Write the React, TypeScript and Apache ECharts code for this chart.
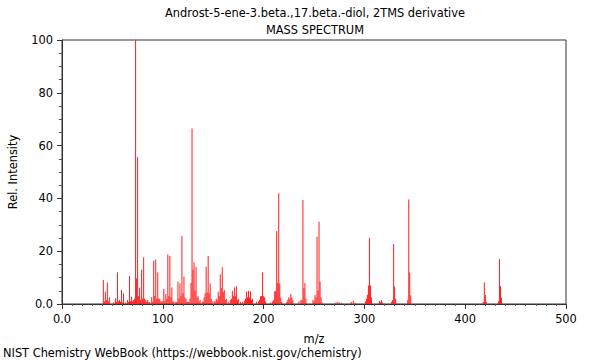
import React, { useEffect, useRef } from "react";
import * as echarts from "echarts";

const titleLine1 = "Androst-5-ene-3.beta.,17.beta.-diol, 2TMS derivative";
const titleLine2 = "MASS SPECTRUM";
const xAxisName = "m/z";
const yAxisName = "Rel. Intensity";
const footer = "NIST Chemistry WebBook (https://webbook.nist.gov/chemistry)";

const mzValues: number[] = [
  41, 42, 43, 44, 45, 46, 47, 51, 53, 54, 55, 56, 57, 58, 59, 60, 61, 63, 65, 66,
  67, 68, 69, 70, 71, 72, 73, 74, 75, 76, 77, 78, 79, 80, 81, 82, 83, 84, 85, 86,
  87, 89, 90, 91, 92, 93, 94, 95, 96, 97, 98, 99, 100, 101, 102, 103, 104, 105, 106, 107,
  108, 109, 110, 111, 113, 114, 115, 116, 117, 118, 119, 120, 121, 122, 123, 124, 125, 126, 127, 128,
  129, 130, 131, 132, 133, 134, 135, 136, 137, 139, 140, 141, 142, 143, 144, 145, 146, 147, 148, 149,
  151, 152, 153, 154, 155, 156, 157, 158, 159, 160, 161, 162, 163, 165, 167, 168, 169, 170, 171, 172,
  173, 174, 175, 177, 179, 181, 182, 183, 184, 185, 186, 187, 188, 189, 193, 195, 196, 197, 198, 199,
  200, 201, 202, 207, 209, 210, 211, 212, 213, 214, 215, 216, 217, 218, 223, 224, 225, 226, 227, 228,
  229, 235, 237, 238, 239, 240, 241, 242, 249, 250, 251, 252, 253, 254, 255, 256, 257, 258, 271, 273,
  275, 277, 287, 289, 291, 301, 302, 303, 304, 305, 306, 307, 315, 316, 317, 318, 327, 328, 329, 330,
  331, 343, 344, 345, 346, 418, 419, 420, 421, 433, 434, 435, 436,
];

const intensityValues: number[] = [
  9.1, 1, 4.7, 1.5, 8.2, 1, 2.5, 0.6, 2.2, 0.8, 12, 1, 1.5, 0.8, 5.3, 0.6, 4, 0.6, 1.5, 0.8,
  10.6, 1, 2.8, 1, 1.5, 2, 100, 9.7, 55.7, 3, 6.2, 1.5, 13, 2, 17.7, 2, 1.5, 0.8, 1.5, 0.6,
  0.8, 2.6, 0.8, 16.4, 3, 16.8, 2, 12, 2, 2, 1, 1, 1, 5.7, 1, 3.8, 2, 18.8, 3, 18.2,
  2.5, 6.3, 1, 1, 0.8, 0.8, 8.5, 2, 7.8, 3, 25.8, 4, 10.4, 2.5, 2, 0.8, 0.8, 0.8, 2, 8,
  66.5, 13, 15.8, 5, 14.1, 2.5, 3, 1, 1.5, 0.8, 1, 2.5, 4, 14.1, 4.5, 18.2, 4, 7.8, 2, 1,
  1.2, 0.8, 2, 1.5, 4.7, 3, 11.2, 6, 13.9, 4.5, 5.3, 1.5, 2, 0.8, 1.5, 2, 5, 3, 6.3, 3,
  6.8, 1.5, 2, 0.8, 0.8, 1.2, 2, 4.7, 2.5, 5, 2.5, 4.8, 1.5, 2, 0.8, 1, 1.5, 3, 3, 12,
  3, 2.5, 1, 0.6, 1, 1.5, 4.8, 5, 27.6, 8, 41.9, 7.8, 2.5, 0.8, 0.8, 1.5, 2.5, 2, 3.8, 2.5,
  1.5, 1, 1.5, 1.5, 39.4, 6, 8, 2, 1.5, 1, 3.4, 2.5, 25.5, 5, 31.2, 8.5, 2.5, 0.6, 0.5, 0.8,
  0.6, 0.5, 0.8, 1.2, 0.5, 1, 2, 3.5, 7, 25, 7, 2.5, 1.2, 0.6, 1.5, 0.6, 0.8, 1.5, 22.7, 6.6,
  2, 1.5, 39.6, 11.9, 3.3, 0.8, 8.2, 3.4, 0.8, 1, 17, 6.8, 2.3,
];

const xMin = 0;
const xMax = 500;
const xInterval = 100;
const yMin = 0;
const yMax = 100;
const yInterval = 20;

const FONT = "DejaVu Sans";
const FS = 11.4;

export default function App() {
  const ref = useRef<HTMLDivElement>(null);

  useEffect(() => {
    if (!ref.current) return;
    const chart = echarts.init(ref.current, undefined, { renderer: "svg" });
    const data = mzValues.map((m, i) => [m, intensityValues[i]]);
    const fmt = (v: number) => (v === 0 ? "0.0" : String(v));

    chart.setOption({
      animation: false,
      backgroundColor: "#ffffff",
      textStyle: { fontFamily: FONT },
      grid: {
        left: 62,
        right: 34,
        top: 40,
        bottom: 56,
        containLabel: false,
        outerBoundsMode: "none",
        show: true,
        borderColor: "#333",
        borderWidth: 1,
        backgroundColor: "transparent",
      },
      xAxis: {
        type: "value",
        min: xMin,
        max: xMax,
        interval: xInterval,
        name: xAxisName,
        nameLocation: "middle",
        nameGap: 29,
        nameTextStyle: { color: "#000", fontSize: FS, fontFamily: FONT },
        axisLine: { show: true, lineStyle: { color: "#333", width: 1 } },
        axisTick: { show: true, length: 5, lineStyle: { color: "#333" } },
        minorTick: { show: true, splitNumber: 10, length: 2, lineStyle: { color: "#555" } },
        splitLine: { show: false },
        axisLabel: { color: "#000", fontSize: FS, fontFamily: FONT, margin: 9, formatter: fmt },
      },
      yAxis: {
        type: "value",
        min: yMin,
        max: yMax,
        interval: yInterval,
        name: yAxisName,
        nameLocation: "middle",
        nameGap: 44,
        nameTextStyle: { color: "#000", fontSize: FS, fontFamily: FONT },
        axisLine: { show: true, lineStyle: { color: "#333", width: 1 } },
        axisTick: { show: true, length: 5, lineStyle: { color: "#333" } },
        minorTick: { show: true, splitNumber: 4, length: 3, lineStyle: { color: "#555" } },
        splitLine: { show: false },
        axisLabel: { color: "#000", fontSize: FS, fontFamily: FONT, margin: 9, formatter: fmt },
      },
      series: [
        {
          type: "custom",
          data,
          clip: true,
          renderItem: (params: any, api: any) => {
            const p0 = api.coord([api.value(0), 0]);
            const p1 = api.coord([api.value(0), api.value(1)]);
            return {
              type: "line",
              shape: { x1: p0[0], y1: p0[1], x2: p1[0], y2: p1[1] },
              style: { stroke: "rgb(255,30,30)", lineWidth: 1 },
            };
          },
        },
      ],
      graphic: [
        {
          type: "text",
          x: 315,
          y: 7,
          style: {
            text: titleLine1,
            fill: "#000",
            fontSize: FS,
            fontFamily: FONT,
            align: "center",
            verticalAlign: "top",
          },
        },
        {
          type: "text",
          x: 315,
          y: 24,
          style: {
            text: titleLine2,
            fill: "#000",
            fontSize: FS,
            fontFamily: FONT,
            align: "center",
            verticalAlign: "top",
          },
        },
        {
          type: "text",
          x: 3,
          y: 347,
          style: {
            text: footer,
            fill: "#000",
            fontSize: FS,
            fontFamily: FONT,
            align: "left",
            verticalAlign: "top",
          },
        },
      ],
    });

    return () => chart.dispose();
  }, []);

  return (
    <div
      ref={ref}
      style={{ position: "fixed", left: 0, top: 0, width: 600, height: 360 }}
    />
  );
}
